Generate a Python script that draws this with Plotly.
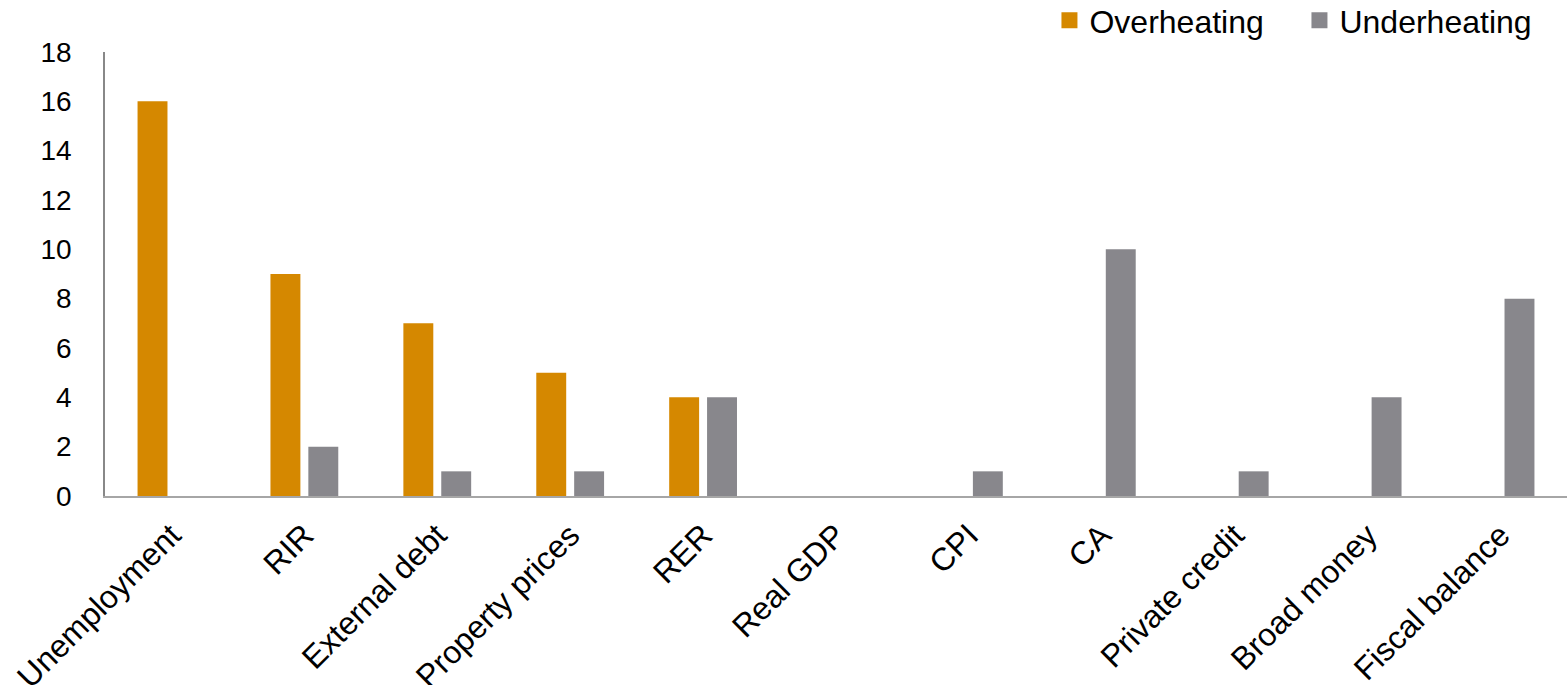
import plotly.graph_objects as go

categories = ["Unemployment", "RIR", "External debt", "Property prices", "RER",
              "Real GDP", "CPI", "CA", "Private credit", "Broad money", "Fiscal balance"]
overheating = [16, 9, 7, 5, 4, 0, 0, 0, 0, 0, 0]
underheating = [0, 2, 1, 1, 4, 0, 1, 10, 1, 4, 8]
y_ticks = list(range(0, 19, 2))

FONT = "Liberation Sans, Arial, sans-serif"
COLORS = {"Overheating": "#D58800", "Underheating": "#88878C"}

fig = go.Figure()
for name, values in (("Overheating", overheating), ("Underheating", underheating)):
    fig.add_trace(go.Bar(name=name, x=categories, y=values, showlegend=False,
                         legendgroup=name,
                         marker=dict(color=COLORS[name], line=dict(width=0))))
# Legend entries with larger square swatches
for name in ("Overheating", "Underheating"):
    fig.add_trace(go.Scatter(name=name, x=[None], y=[None], mode="markers",
                             legendgroup=name, hoverinfo="skip", showlegend=True,
                             marker=dict(symbol="square", size=16, color=COLORS[name])))

fig.update_layout(
    width=1567, height=685,
    margin=dict(l=105, r=0, t=52, b=189, pad=0, autoexpand=False),
    paper_bgcolor="white", plot_bgcolor="white",
    barmode="group", bargap=0.43, bargroupgap=0.21,
    font=dict(family=FONT, size=28, color="#000000"),
    legend=dict(orientation="h", x=0.988, xanchor="right",
                y=1.133, yanchor="top",
                font=dict(size=32), entrywidth=205, bgcolor="rgba(0,0,0,0)",
                itemsizing="trace", traceorder="normal"),
    showlegend=True,
)
fig.update_xaxes(type="category", categoryorder="array", categoryarray=categories,
                 showline=True, linecolor="#A6A6A6", linewidth=1.5, showgrid=False,
                 ticks="", tickangle=-45, tickfont=dict(size=32), ticklabelstandoff=6,
                 automargin=False)
fig.update_yaxes(range=[0, 18], tickvals=y_ticks, showline=True, linecolor="#888888",
                 linewidth=1.5, showgrid=False, zeroline=False, ticks="",
                 tickfont=dict(size=28), ticklabelstandoff=26, automargin=False)

fig.write_html("out.html")
